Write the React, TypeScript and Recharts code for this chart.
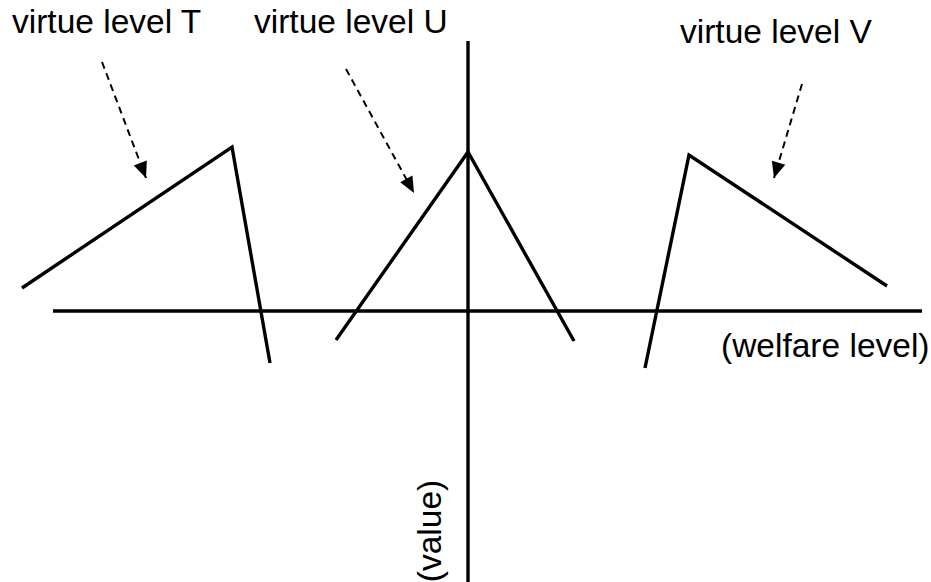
import { ComposedChart, Line, XAxis, YAxis, ReferenceLine } from 'recharts'

// welfare (x) / value (y) coordinates, origin where the two axes cross
const virtueT = [
  { welfare: -44.6, value: 2.3 },
  { welfare: -23.6, value: 16.4 },
  { welfare: -19.8, value: -5.2 },
]
const virtueU = [
  { welfare: -13.2, value: -2.9 },
  { welfare: 0, value: 15.9 },
  { welfare: 10.6, value: -3.0 },
]
const virtueV = [
  { welfare: 17.7, value: -5.7 },
  { welfare: 22.1, value: 15.6 },
  { welfare: 41.9, value: 2.5 },
]

// dashed pointers from each label to its curve
const arrowT = [
  { welfare: -36.6, value: 24.9 },
  { welfare: -32.2, value: 13.3 },
]
const arrowU = [
  { welfare: -12.2, value: 24.2 },
  { welfare: -5.4, value: 11.8 },
]
const arrowV = [
  { welfare: 33.4, value: 22.7 },
  { welfare: 30.6, value: 13.3 },
]

const welfareAxis = [-41.5, 45.4]
const valueAxis = [-27.1, 27.0]

const W = 931
const H = 582
const FONT = '"Liberation Sans", Arial, Helvetica, sans-serif'

const ArrowHead = (props: any) => {
  const { cx, cy, index, points } = props
  if (!points || index !== points.length - 1) return <g key={`d-${index}`} />
  const prev = points[index - 1]
  const dx = cx - prev.x
  const dy = cy - prev.y
  const len = Math.hypot(dx, dy) || 1
  const ux = dx / len
  const uy = dy / len
  const L = 16
  const hw = 7
  const bx = cx - ux * L
  const by = cy - uy * L
  return (
    <polygon
      key={`d-${index}`}
      points={`${cx},${cy} ${bx - uy * hw},${by + ux * hw} ${bx + uy * hw},${by - ux * hw}`}
      fill="#000"
    />
  )
}

const labelStyle = {
  position: 'absolute' as const,
  fontFamily: FONT,
  fontSize: 33.5,
  lineHeight: '33px',
  color: '#000',
  whiteSpace: 'nowrap' as const,
}

export default function App() {
  const solid = {
    type: 'linear' as const,
    dataKey: 'value',
    stroke: '#000',
    strokeWidth: 3.4,
    strokeLinejoin: 'miter' as const,
    dot: false,
    activeDot: false,
    isAnimationActive: false,
  }
  const dashed = {
    type: 'linear' as const,
    dataKey: 'value',
    stroke: '#000',
    strokeWidth: 2,
    strokeDasharray: '7 5',
    dot: ArrowHead,
    activeDot: false,
    isAnimationActive: false,
  }

  return (
    <div style={{ position: 'absolute', left: 0, top: 0, width: W, height: H, background: '#fff' }}>
      <ComposedChart width={W} height={H} margin={{ top: 0, right: 0, bottom: 0, left: 0 }}>
        <XAxis type="number" dataKey="welfare" domain={[-46.8, 46.3]} allowDataOverflow hide />
        <YAxis type="number" dataKey="value" domain={[-27.1, 31.1]} allowDataOverflow hide />
        <ReferenceLine
          segment={[{ x: welfareAxis[0], y: 0 }, { x: welfareAxis[1], y: 0 }]}
          stroke="#000"
          strokeWidth={3.4}
          ifOverflow="visible"
        />
        <ReferenceLine
          segment={[{ x: 0, y: valueAxis[0] }, { x: 0, y: valueAxis[1] }]}
          stroke="#000"
          strokeWidth={3.4}
          ifOverflow="visible"
        />
        <Line {...solid} data={virtueT} />
        <Line {...solid} data={virtueU} />
        <Line {...solid} data={virtueV} />
        <Line {...dashed} data={arrowT} />
        <Line {...dashed} data={arrowU} />
        <Line {...dashed} data={arrowV} />
      </ComposedChart>
      <div style={{ ...labelStyle, left: 12, top: 5 }}>virtue level T</div>
      <div style={{ ...labelStyle, left: 254, top: 5 }}>virtue level U</div>
      <div style={{ ...labelStyle, left: 680, top: 15 }}>virtue level V</div>
      <div style={{ ...labelStyle, left: 721, top: 329 }}>(welfare level)</div>
      <div
        style={{
          ...labelStyle,
          left: 429,
          top: 531,
          transform: 'translate(-50%, -50%) rotate(-90deg)',
        }}
      >
        (value)
      </div>
    </div>
  )
}
